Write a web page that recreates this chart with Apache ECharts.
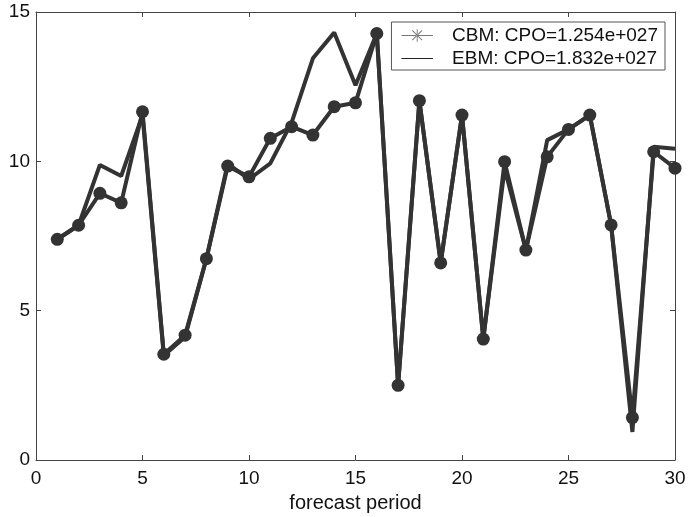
<!DOCTYPE html>
<html><head><meta charset="utf-8">
<script src="https://cdn.jsdelivr.net/npm/echarts@6/dist/echarts.min.js"></script>
<style>html,body{margin:0;padding:0;background:#fff}#c{width:688px;height:517px}</style>
</head><body><div id="c"></div>
<script>
const periods = [1,2,3,4,5,6,7,8,9,10,11,12,13,14,15,16,17,18,19,20,21,22,23,24,25,26,27,28,29,30];
const cbm = [7.39,7.86,8.93,8.61,11.66,3.54,4.18,6.74,9.84,9.48,10.77,11.16,10.88,11.83,11.96,14.28,2.50,12.03,6.60,11.55,4.05,9.99,7.03,10.15,11.07,11.55,7.87,1.42,10.32,9.77];
const ebm = [7.39,7.86,9.88,9.51,11.55,3.50,4.12,6.74,9.92,9.40,9.93,11.30,13.45,14.31,12.55,14.28,2.50,12.03,6.60,11.55,4.05,9.75,7.03,10.71,11.07,11.55,7.87,0.94,10.49,10.42];
const xTicks = {min:0,max:30,interval:5};
const yTicks = {min:0,max:15,interval:5};
const legendNames = ['CBM: CPO=1.254e+027','EBM: CPO=1.832e+027'];

const font = 'Liberation Sans, Arial, sans-serif';
const axisCol = '#444';
const lineCol = '#333';
const chart = echarts.init(document.getElementById('c'));
const starIcon = 'path://M0,9.5h35v1h-35z M17,3h1v14h-1z M11.7,4.6l0.7,-0.7l10.9,10.9l-0.7,0.7z M23.3,4.6l-0.7,-0.7l-10.9,10.9l0.7,0.7z M48,0h0.01v0.01z M48,20h0.01v0.01z';
const lineIcon = 'path://M0,9.5h35v1h-35z M48,0h0.01v0.01z M48,20h0.01v0.01z M0,0h0.01v0.01z';
const mkX = (pos, labels) => ({
  type:'value', position:pos, min:xTicks.min, max:xTicks.max, interval:xTicks.interval,
  axisLine:{show:true,onZero:false,lineStyle:{color:axisCol,width:1}},
  axisTick:{show:true,inside:true,length:5,lineStyle:{color:axisCol}},
  axisLabel:{show:labels,color:'#111',fontSize:19,fontFamily:font,margin:9},
  splitLine:{show:false},
  name: labels ? 'forecast period' : '', nameLocation:'middle', nameGap:33,
  nameTextStyle:{color:'#111',fontSize:20,fontFamily:font}
});
const mkY = (pos, labels) => ({
  type:'value', position:pos, min:yTicks.min, max:yTicks.max, interval:yTicks.interval,
  axisLine:{show:true,onZero:false,lineStyle:{color:axisCol,width:1}},
  axisTick:{show:true,inside:true,length:5,lineStyle:{color:axisCol}},
  axisLabel:{show:labels,color:'#111',fontSize:19,fontFamily:font,margin:6},
  splitLine:{show:false}
});
chart.setOption({
  animation:false,
  backgroundColor:'#fff',
  grid:{left:36,right:13,top:12,bottom:57,containLabel:false,outerBoundsMode:'none'},
  xAxis:[mkX('bottom',true), mkX('top',false)],
  yAxis:[mkY('left',true), mkY('right',false)],
  legend:{
    right:23, top:22, orient:'vertical', itemGap:4,
    backgroundColor:'#fff', borderColor:'#555', borderWidth:1, padding:[4,7,2,10],
    itemWidth:48, itemHeight:18,
    textStyle:{color:'#111',fontSize:19,fontFamily:font},
    data:[
      {name:legendNames[0], icon:starIcon, itemStyle:{color:'#777'}},
      {name:legendNames[1], icon:lineIcon, itemStyle:{color:'#222'}}
    ]
  },
  series:[
    {name:legendNames[1], type:'line', xAxisIndex:0, yAxisIndex:0,
     data:periods.map((p,i)=>[p,ebm[i]]), showSymbol:false, symbol:'none',
     lineStyle:{color:lineCol,width:4}, itemStyle:{color:lineCol}, z:2},
    {name:legendNames[0], type:'line', xAxisIndex:0, yAxisIndex:0,
     data:periods.map((p,i)=>[p,cbm[i]]), symbol:'circle', symbolSize:13,
     lineStyle:{color:lineCol,width:4}, itemStyle:{color:lineCol}, z:3}
  ]
});
</script></body></html>
